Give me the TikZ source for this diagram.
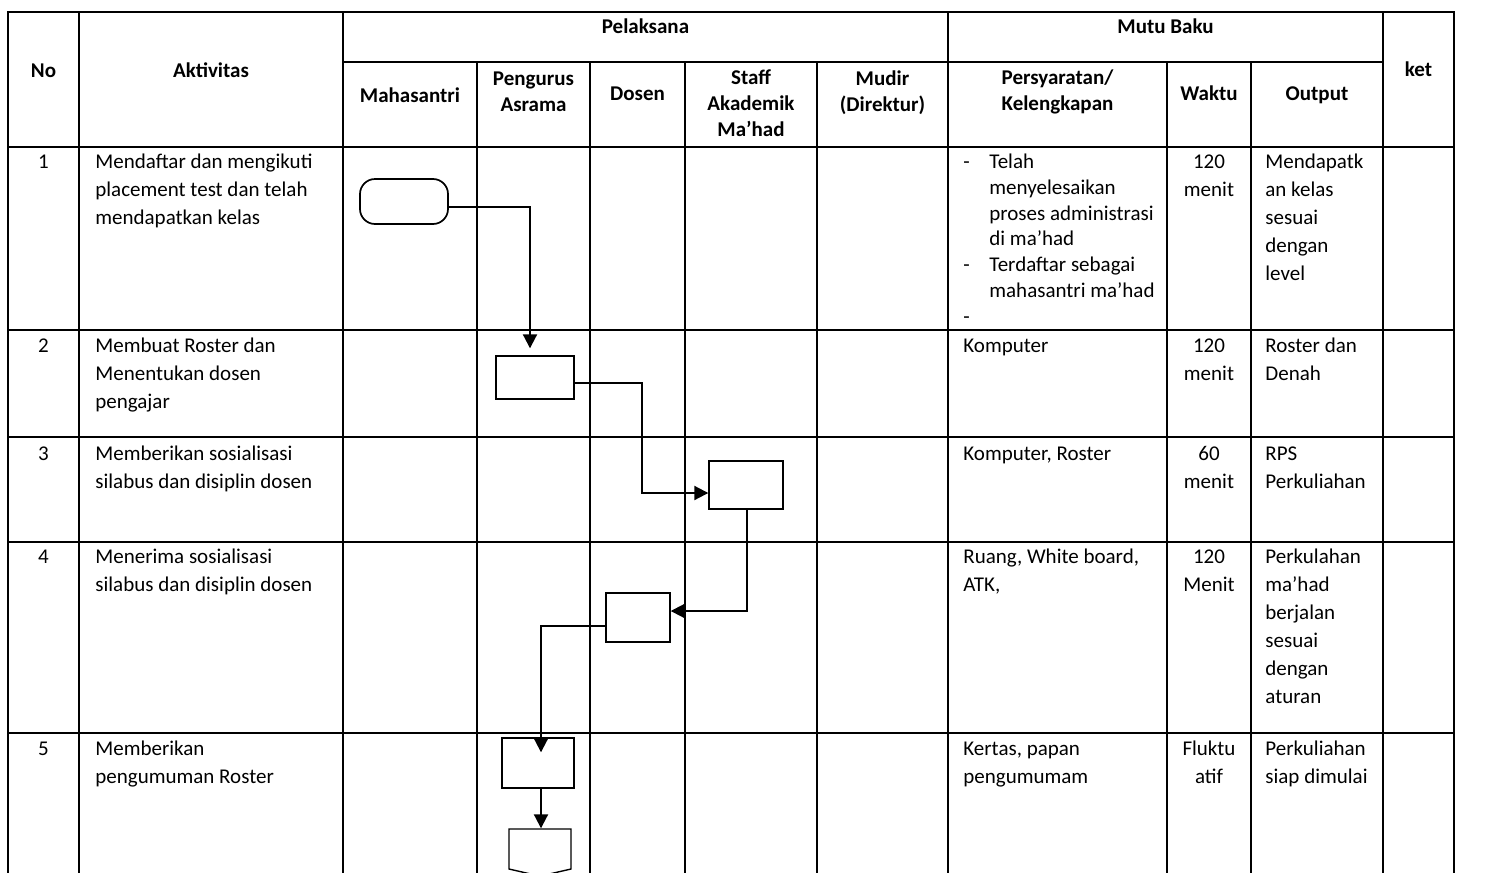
\documentclass[tikz,border=0pt]{standalone}
\usepackage{fontspec}
\setmainfont{Carlito}
\usetikzlibrary{
  positioning,
  arrows.meta,
  shapes.symbols,
  calc
}
\newcommand{\bodyfont}{\fontsize{10.5}{14}\selectfont}
\newcommand{\headfont}{\fontsize{10.5}{13}\selectfont\bfseries}
\newcommand{\listfont}{\fontsize{10.5}{12.9}\selectfont}
\newcommand{\itm}{\makebox[13pt][l]{-}}
\newcommand{\ind}{\hspace*{13pt}}
\tikzset{
  >=Latex,
  flowarrow/.style={-{Triangle[length=7pt,width=7pt]},line width=1pt},
  gridline/.style={line width=1pt,line cap=rect},
  terminal/.style={rectangle,draw,fill=white,line width=0.85pt,rounded corners=7.5pt,minimum width=44pt,minimum height=22.5pt,inner sep=0pt},
  process/.style={rectangle,draw,fill=white,line width=0.7pt,inner sep=0pt},
  offpage/.style={signal,signal to=south,signal from=nowhere,signal pointer angle=154,draw,fill=white,line width=0.7pt,minimum width=31pt,minimum height=20pt,inner sep=0pt},
  head/.style={anchor=north,align=flush center,text width=62pt,inner sep=0pt,font=\headfont,execute at begin node=\strut},
  cell/.style={anchor=north west,align=flush left,text width=122pt,inner sep=0pt,font=\bodyfont,execute at begin node=\strut},
  num/.style={anchor=north,align=flush center,text width=38pt,inner sep=0pt,font=\bodyfont,execute at begin node=\strut}
}

\begin{document}
\begin{tikzpicture}[x=0.5pt,y=-0.5pt]
    \useasboundingbox (0,0) rectangle (1485,873);

    % table rules
    \draw[gridline] (8,12) -- (1454,12);
    \draw[gridline] (343,62) -- (1383,62);
    \draw[gridline] (8,147) -- (1454,147);
    \draw[gridline] (8,330) -- (1454,330);
    \draw[gridline] (8,437) -- (1454,437);
    \draw[gridline] (8,542) -- (1454,542);
    \draw[gridline] (8,733) -- (1454,733);
    \draw[gridline] (8,12) -- (8,873);
    \draw[gridline] (79,12) -- (79,873);
    \draw[gridline] (343,12) -- (343,873);
    \draw[gridline] (948,12) -- (948,873);
    \draw[gridline] (1383,12) -- (1383,873);
    \draw[gridline] (1454,12) -- (1454,873);
    \draw[gridline] (477,62) -- (477,873);
    \draw[gridline] (590,62) -- (590,873);
    \draw[gridline] (685,62) -- (685,873);
    \draw[gridline] (817,62) -- (817,873);
    \draw[gridline] (1167,62) -- (1167,873);
    \draw[gridline] (1251,62) -- (1251,873);

    % header
    \node[head] (hNo) at (43.5,59) {No};
    \node[head] (hAkt) at (211,59) {Aktivitas};
    \node[head] (hPel) at (645.5,15) {Pelaksana};
    \node[head] (hMutu) at (1165.5,15) {Mutu Baku};
    \node[head] (hKet) at (1418.5,58) {ket};
    \node[head] (hMhs) at (410,84) {Mahasantri};
    \node[head] (hPeng) at (533.5,67) {Pengurus\\Asrama};
    \node[head] (hDos) at (637.5,82) {Dosen};
    \node[head] (hStaff) at (751,65.5) {Staff\\Akademik\\Ma’had};
    \node[head] (hMudir) at (882.5,67) {Mudir\\(Direktur)};
    \node[head] (hSyarat) at (1057.5,66) {Persyaratan/\\Kelengkapan};
    \node[head] (hWaktu) at (1209,82) {Waktu};
    \node[head] (hOut) at (1317,82) {Output};

    % row 1
    \node[num] (no1) at (43.5,148.4) {1};
    \node[cell] (akt1) at (95,148.4) {Mendaftar dan mengikuti\\placement test dan telah\\mendapatkan kelas};
    \node[cell,font=\listfont,text width=100pt] (syarat1) at (963,150) {\itm Telah\\\ind menyelesaikan\\\ind proses administrasi\\\ind di ma’had\\\itm Terdaftar sebagai\\\ind mahasantri ma’had\\\itm};
    \node[num] (waktu1) at (1209,148.4) {120\\menit};
    \node[cell,text width=57pt] (out1) at (1265,148.4) {Mendapatk\\an kelas\\sesuai\\dengan\\level};

    % row 2
    \node[num] (no2) at (43.5,332.4) {2};
    \node[cell] (akt2) at (95,332.4) {Membuat Roster dan\\Menentukan dosen\\pengajar};
    \node[cell,text width=100pt] (syarat2) at (963,332.4) {Komputer};
    \node[num] (waktu2) at (1209,332.4) {120\\menit};
    \node[cell,text width=57pt] (out2) at (1265,332.4) {Roster dan\\Denah};

    % row 3
    \node[num] (no3) at (43.5,440.4) {3};
    \node[cell] (akt3) at (95,440.4) {Memberikan sosialisasi\\silabus dan disiplin dosen};
    \node[cell,text width=100pt] (syarat3) at (963,440.4) {Komputer, Roster};
    \node[num] (waktu3) at (1209,440.4) {60\\menit};
    \node[cell,text width=57pt] (out3) at (1265,440.4) {RPS\\Perkuliahan};

    % row 4
    \node[num] (no4) at (43.5,543.4) {4};
    \node[cell] (akt4) at (95,543.4) {Menerima sosialisasi\\silabus dan disiplin dosen};
    \node[cell,text width=100pt] (syarat4) at (963,543.4) {Ruang, White board,\\ATK,};
    \node[num] (waktu4) at (1209,543.4) {120\\Menit};
    \node[cell,text width=57pt] (out4) at (1265,543.4) {Perkulahan\\ma’had\\berjalan\\sesuai\\dengan\\aturan};

    % row 5
    \node[num] (no5) at (43.5,735.4) {5};
    \node[cell] (akt5) at (95,735.4) {Memberikan\\pengumuman Roster};
    \node[cell,text width=100pt] (syarat5) at (963,735.4) {Kertas, papan\\pengumumam};
    \node[num] (waktu5) at (1209,735.4) {Fluktu\\atif};
    \node[cell,text width=57pt] (out5) at (1265,735.4) {Perkuliahan\\siap dimulai};

    % flow symbols
    \node[terminal] (mulai) at (404,201.5) {};
    \node[process,minimum width=39pt,minimum height=21.5pt] (roster) at (535,377.5) {};
    \node[process,minimum width=37pt,minimum height=24pt] (sosial) at (746,485) {};
    \node[process,minimum width=32pt,minimum height=24.5pt] (terima) at (638,617.5) {};
    \node[process,minimum width=36pt,minimum height=25pt] (umum) at (538,763) {};
    \node[offpage] (lanjut) at (540,849) {};
    \coordinate (knee1) at (642,493);

    \draw[flowarrow] ([yshift=-2.75pt]mulai.east) -| ([xshift=-2.5pt,yshift=3.5pt]roster.north);
    \draw[flowarrow] ([yshift=-2.75pt]roster.east) -| (knee1) -- ([yshift=-4pt]sosial.west);
    \draw[flowarrow] ([xshift=0.5pt]sosial.south) |- ([yshift=3.25pt]terima.east);
    \draw[flowarrow] ([yshift=-4.25pt]terima.west) -| ([xshift=1.5pt,yshift=-7.5pt]umum.north);
    \draw[flowarrow] ([xshift=1.5pt]umum.south) -- ([xshift=0.5pt]lanjut.north);
\end{tikzpicture}
\end{document}
